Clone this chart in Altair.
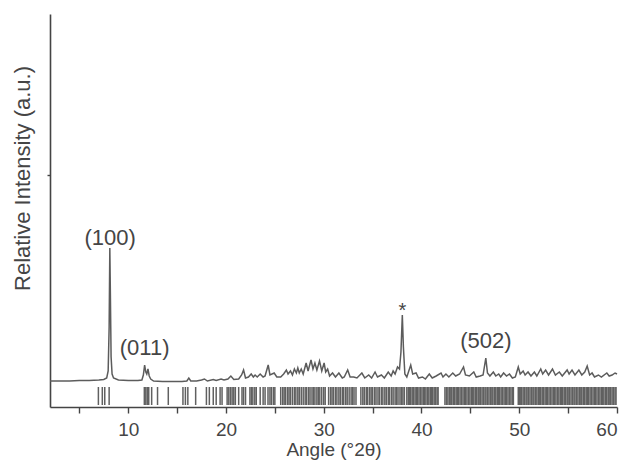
import altair as alt
import pandas as pd

# ---- measured pattern (2theta in degrees, relative intensity in a.u.) ----
angle = [2.0, 3.0, 4.0, 5.0, 6.0, 7.0, 7.5, 7.8, 7.95, 8.05, 8.12, 8.18, 8.25, 8.35, 8.5, 9.0,
         10.0, 11.0, 11.4, 11.55, 11.68, 11.8, 11.9, 12.02, 12.15, 12.3, 12.6, 13.5, 14.5, 15.5,
         16.0, 16.2, 16.4, 17.0, 17.5, 17.8, 18.1, 18.7, 19.0, 19.5, 19.8, 20.2, 20.5, 20.8,
         21.3, 21.6, 21.8, 22.0, 22.3, 22.58, 22.8, 22.98, 23.2, 23.5, 23.8, 24.0, 24.32, 24.5,
         24.93, 25.2, 25.6, 25.9, 26.18, 26.35, 26.6, 26.8, 27.0, 27.2, 27.35, 27.5, 27.7, 27.9,
         28.2, 28.4, 28.7, 28.9, 29.1, 29.3, 29.57, 29.8, 30.04, 30.2, 30.4, 30.6, 30.9, 31.2,
         31.55, 31.9, 32.1, 32.45, 32.7, 33.07, 33.4, 33.9, 34.2, 34.6, 34.9, 35.25, 35.5, 35.9,
         36.2, 36.6, 36.9, 37.1, 37.3, 37.55, 37.75, 37.9, 38.04, 38.15, 38.3, 38.5, 38.9, 39.1,
         39.45, 39.7, 40.1, 40.4, 40.8, 41.1, 41.5, 42.0, 42.2, 42.5, 42.8, 43.2, 43.5, 43.9,
         44.3, 44.5, 44.9, 45.35, 45.6, 46.0, 46.3, 46.58, 46.75, 47.0, 47.35, 47.6, 47.9, 48.1,
         48.4, 48.7, 49.0, 49.3, 49.6, 49.9, 50.1, 50.4, 50.6, 50.9, 51.2, 51.55, 51.8, 52.2,
         52.4, 52.7, 53.0, 53.4, 53.7, 54.1, 54.4, 54.9, 55.1, 55.4, 55.7, 56.1, 56.4, 56.7,
         56.95, 57.2, 57.45, 57.7, 58.1, 58.4, 58.96, 59.2, 59.5, 59.8, 60.0]
intensity = [26, 26, 26, 26.5, 26.5, 27, 27.5, 29, 36, 80, 159, 110, 50, 33, 29, 27,
             26.5, 26.5, 27, 32, 42, 35, 33, 38, 31, 28, 26, 25.5, 25.5, 25.5,
             26, 29, 26, 26, 27, 28, 26, 27.5, 26.5, 28, 27, 28, 31, 27.5,
             28, 32, 37, 29, 30, 33, 30, 32, 30, 33, 30, 31, 42, 32,
             34, 30, 30, 33, 37, 33, 36, 32, 38, 34, 39, 34, 38, 33,
             44, 36, 47, 38, 44, 37, 46, 36, 44, 35, 38, 31, 34, 30,
             34, 29, 30, 37, 30, 30, 29, 34, 29, 32, 29, 35, 30, 32,
             29, 35, 31, 36, 33, 40, 38, 55, 92, 60, 33, 30, 42, 33,
             34, 29, 30, 28, 33, 29, 31, 34, 30, 33, 30, 34, 31, 33,
             40, 32, 31, 35, 30, 31, 32, 49, 34, 31, 35, 31, 33, 30,
             34, 31, 33, 29, 30, 40, 33, 36, 32, 35, 31, 35, 31, 38,
             33, 37, 32, 38, 32, 35, 31, 37, 33, 37, 32, 37, 32, 35,
             41, 32, 34, 30, 32, 30, 34, 31, 32, 34, 33]

# ---- calculated reflection positions (2theta) ----
bragg = [6.95, 7.35, 7.6, 8.05, 11.65, 11.8, 11.95, 12.1, 12.4, 13.0, 14.1, 15.6, 15.85, 16.1,
         16.9, 18.0, 18.3, 18.7, 19.0, 19.4, 19.6, 20.12, 20.29, 20.46, 20.63, 20.8, 20.96,
         21.3, 21.64, 21.8, 22.0, 22.45, 22.6, 22.75, 22.95, 23.1, 23.5, 23.8, 24.0, 24.3, 24.5,
         24.65, 24.85, 25.0, 25.6, 25.8, 25.95, 26.1, 26.3, 26.45, 26.6, 26.8, 27.0, 27.15,
         27.35, 27.5, 27.7, 27.9, 28.1, 28.25, 28.45, 28.6, 28.8, 28.95, 29.1, 29.3, 29.45,
         29.6, 29.8, 30.0, 30.15, 30.5, 30.7, 30.85, 31.0, 31.2, 31.35, 31.55, 31.7, 31.9,
         32.05, 32.25, 32.4, 32.6, 32.8, 32.95, 33.1, 33.3, 33.8, 34.0, 34.15, 34.35, 34.5,
         34.7, 34.85, 35.0, 35.2, 35.35, 35.55, 35.7, 35.9, 36.05, 36.25, 36.4, 36.6, 36.75,
         36.95, 37.1, 37.3, 37.45, 37.6, 37.8, 37.95, 38.1, 38.25, 38.5, 38.65, 38.8, 38.9,
         39.05, 39.2, 39.35, 39.5, 39.6, 39.75, 39.9, 40.05, 40.2, 40.3, 40.45, 40.6, 40.75,
         40.9, 41.0, 41.15, 41.3, 41.45, 41.6, 41.7, 42.4, 42.55, 42.7, 42.85, 43.0, 43.1,
         43.25, 43.4, 43.55, 43.7, 43.8, 43.95, 44.1, 44.25, 44.4, 44.5, 44.65, 44.8, 44.95,
         45.1, 45.2, 45.35, 45.5, 45.65, 45.8, 45.9, 46.05, 46.2, 46.35, 46.5, 46.6, 46.75,
         46.9, 47.05, 47.2, 47.3, 47.45, 47.6, 47.75, 47.9, 48.0, 48.15, 48.3, 48.45, 48.6,
         48.7, 48.85, 49.0, 49.15, 49.3, 49.4, 49.9, 50.0, 50.1, 50.25, 50.4, 50.55, 50.7,
         50.8, 50.95, 51.1, 51.25, 51.4, 51.5, 51.65, 51.8, 51.95, 52.1, 52.2, 52.35, 52.5,
         52.65, 52.8, 52.9, 53.05, 53.2, 53.35, 53.5, 53.6, 53.75, 53.9, 54.05, 54.2, 54.3,
         54.45, 54.6, 54.75, 54.9, 55.0, 55.15, 55.3, 55.45, 55.6, 55.7, 55.85, 56.0, 56.15,
         56.3, 56.4, 56.55, 56.7, 56.85, 57.0, 57.1, 57.25, 57.4, 57.55, 57.7, 57.8, 57.95,
         58.1, 58.25, 58.4, 58.5, 58.65, 58.8, 58.95, 59.1, 59.2, 59.35, 59.5, 59.65, 59.8,
         59.9]

# ---- peak labels ----
hkl_text = ["(100)", "(011)", "(502)"]
hkl_angle = [8.15, 11.68, 46.58]
hkl_int = [162, 52, 59]
star_text = ["*"]
star_angle = [38.04]
star_int = [90]

x_ticks = [5, 10, 15, 20, 25, 30, 35, 40, 45, 50, 55, 60]
y_ticks = [232]

pattern = pd.DataFrame({"angle": angle, "intensity": intensity})
refl = pd.DataFrame({"angle": bragg})
hkl = pd.DataFrame({"angle": hkl_angle, "intensity": hkl_int, "label": hkl_text})
star = pd.DataFrame({"angle": star_angle, "intensity": star_int, "label": star_text})

FONT = "Liberation Sans"
GREY = "#454545"

xscale = alt.Scale(domain=[2, 60], nice=False, zero=False)
yscale = alt.Scale(domain=[0, 393], nice=False, zero=False)

line = alt.Chart(pattern).mark_line(color="#5c5c5c", strokeWidth=1.5).encode(
    x=alt.X("angle:Q", scale=xscale, title="Angle (°2θ)",
            axis=alt.Axis(values=x_ticks,
                          labelExpr="datum.value % 10 === 0 ? datum.label : ''",
                          tickSize=6, labelPadding=7, labelFontSize=19,
                          titleFontSize=19, titleBaseline="alphabetic",
                          titleY=48, titleFontWeight="normal")),
    y=alt.Y("intensity:Q", scale=yscale, title="Relative Intensity (a.u.)",
            axis=alt.Axis(values=y_ticks, labels=False, tickSize=3,
                          titleFontSize=22, titleAngle=-90, titleBaseline="alphabetic",
                          titleX=-21, titleY=164, titleFontWeight="normal")),
)

rules = alt.Chart(refl).mark_rule(color="#606060", strokeWidth=1.5).encode(
    x=alt.X("angle:Q", scale=xscale),
    y=alt.datum(2),
    y2=alt.datum(20),
)

hkl_layer = alt.Chart(hkl).mark_text(fontSize=22, font=FONT, color=GREY,
                                     baseline="alphabetic", align="center").encode(
    x=alt.X("angle:Q", scale=xscale),
    y=alt.Y("intensity:Q", scale=yscale),
    text="label:N",
)

star_layer = alt.Chart(star).mark_text(fontSize=20, font=FONT, color=GREY,
                                       baseline="alphabetic", align="center").encode(
    x=alt.X("angle:Q", scale=xscale),
    y=alt.Y("intensity:Q", scale=yscale),
    text="label:N",
)

chart = alt.layer(line, rules, hkl_layer, star_layer).properties(
    width=567, height=393,
    autosize=alt.AutoSizeParams(type="none"),
    padding={"left": 42, "top": 6, "right": 10, "bottom": 53},
).configure_view(stroke=None).configure_axis(
    domainColor="#444444", domainWidth=1.6, tickColor="#444444", tickWidth=1.4,
    labelColor=GREY, titleColor=GREY, labelFont=FONT, titleFont=FONT, grid=False,
)

chart.save("out.html", embed_options={"renderer": "svg", "actions": False})
